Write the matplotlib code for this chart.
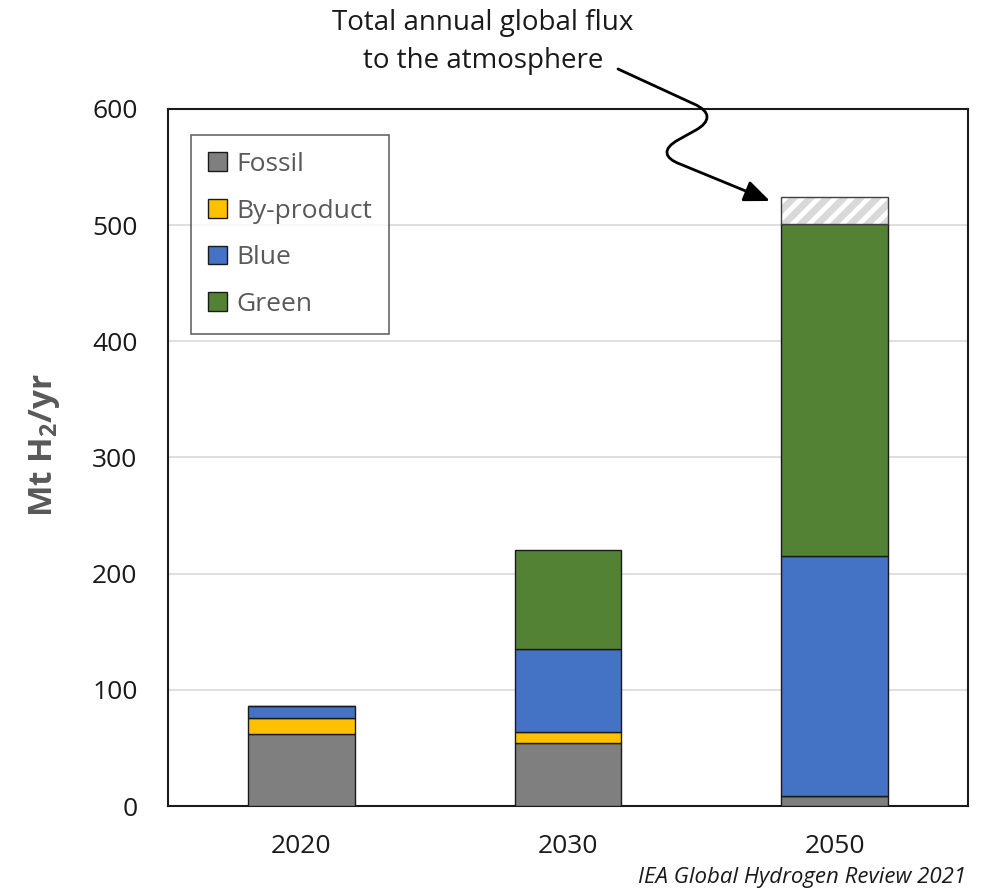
import matplotlib
matplotlib.use("Agg")
import matplotlib.pyplot as plt
from matplotlib.path import Path
from matplotlib.patches import FancyArrowPatch
import numpy as np

# Hydrogen production by source (Mt H2 / yr)
years = ["2020", "2030", "2050"]
fossil = [62, 54, 9]
by_product = [14, 10, 0]
blue = [10, 71, 206]
green = [0, 85, 286]
flux_2050 = 23          # total annual global flux to the atmosphere (2050)
y_ticks = [0, 100, 200, 300, 400, 500, 600]

series_names = ["Fossil", "By-product", "Blue", "Green"]
series_colors = ["#7f7f7f", "#ffc000", "#4472c4", "#548235"]

plt.rcParams["font.family"] = ["Open Sans", "DejaVu Sans"]
plt.rcParams["mathtext.fontset"] = "custom"
plt.rcParams["mathtext.rm"] = "Open Sans"
plt.rcParams["mathtext.bf"] = "Open Sans:bold"
plt.rcParams["hatch.linewidth"] = 3.5

W, H = 987, 893
fig = plt.figure(figsize=(W / 100, H / 100), dpi=100)
ax = fig.add_axes([168 / W, (H - 806) / H, 800 / W, 697 / H])

x = np.arange(len(years))
width = 0.4
bottom = np.zeros(len(years))
for name, vals, col in zip(series_names, [fossil, by_product, blue, green], series_colors):
    vals = np.array(vals, dtype=float)
    ax.bar(x, vals, width, bottom=bottom, color=col, edgecolor="#1a1a1a",
           linewidth=1.0, label=name, zorder=3)
    bottom += vals

# atmospheric flux on top of the 2050 bar
ax.bar(x[2], flux_2050, width, bottom=bottom[2], color="#d9d9d9",
       edgecolor="white", hatch="//", linewidth=0, zorder=3)
ax.bar(x[2], flux_2050, width, bottom=bottom[2], facecolor="none",
       edgecolor="#404040", linewidth=1.0, zorder=4)

ax.set_xlim(-0.5, 2.5)
ax.set_ylim(0, 600)
ax.set_yticks(y_ticks)
ax.set_xticks(x)
ax.set_xticklabels(years)
ax.tick_params(axis="both", length=0, labelsize=19, colors="#1a1a1a")
ax.tick_params(axis="y", pad=22)
ax.tick_params(axis="x", pad=20)
ax.yaxis.grid(True, color="#d9d9d9", linewidth=1.2, zorder=0)
ax.set_axisbelow(True)
for sp in ax.spines.values():
    sp.set_linewidth(1.5)
    sp.set_color("#1a1a1a")

ax.text(-0.154, 0.518, r"Mt H$_\mathbf{2}$/yr", transform=ax.transAxes,
        rotation=90, ha="center", va="center", fontsize=24,
        fontweight="bold", color="#595959")

leg = ax.legend(loc="upper left", bbox_to_anchor=(0.029, 0.963),
                borderaxespad=0, fontsize=19, frameon=True, fancybox=False,
                handlelength=0.7, handleheight=0.7, handletextpad=0.35,
                labelspacing=0.82, borderpad=0.65, labelcolor="#595959")
leg.get_frame().set_edgecolor("#404040")
leg.get_frame().set_linewidth(1.2)

fig.text(483 / W, 1 - 42 / H, "Total annual global flux\nto the atmosphere",
         ha="center", va="center", fontsize=20, color="#1a1a1a",
         linespacing=1.45)

fig.text(966 / W, 1 - 878 / H, "IEA Global Hydrogen Review 2021",
         ha="right", va="center", fontsize=16, style="italic", color="#1a1a1a")

# wavy arrow from the annotation down to the flux segment
pts = [(618, 69), (694, 104), (712, 112), (710, 122), (696, 130),
       (678, 140), (662, 149), (664, 158), (680, 164), (770, 201)]
codes = [Path.MOVETO, Path.LINETO, Path.CURVE4, Path.CURVE4, Path.CURVE4,
         Path.LINETO, Path.CURVE4, Path.CURVE4, Path.CURVE4, Path.LINETO]
verts = [(px / W, 1 - py / H) for px, py in pts]
arrow = FancyArrowPatch(path=Path(verts, codes), transform=fig.transFigure,
                        arrowstyle="-|>,head_length=1.2,head_width=0.5",
                        mutation_scale=13, color="black", linewidth=2.0,
                        zorder=10)
fig.patches.append(arrow)

fig.savefig("out.png", dpi=100)
